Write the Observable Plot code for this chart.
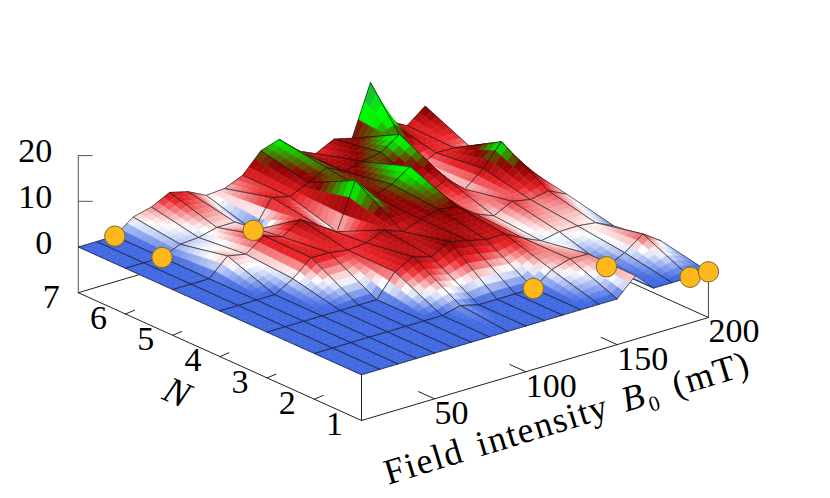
<!DOCTYPE html>
<html><head><meta charset="utf-8">
<style>html,body{margin:0;padding:0;background:#fff}svg{display:block}</style>
<script src="https://cdn.jsdelivr.net/npm/d3@7"></script>
<script src="https://cdn.jsdelivr.net/npm/@observablehq/plot@0.6"></script>
</head><body><div id="chart"></div>
<script>
const fieldB = [10,20,30,40,50,60,70,80,90,100,110,120,130,140,150,160,170,180,190,200];
const orders = [1,2,3,4,5,6,7];
const rowN1 = [0,0,0,0,0,0,0,0,0,0,0,0,0,0,0,3.9,0,0,0,0];
const rowN2 = [0,0,0,0,0,0,0,0,1,0,0,0,0,2.9,4.1,4,0,1.9,4.8,2.1];
const rowN3 = [0,0,0,0,0,0,0,4.9,7,5.8,7.9,7,6,6.1,4,2.2,3,3.1,2.6,0.7];
const rowN4 = [0,0,0,0,2.3,5.7,5.6,5,5.4,7,5.5,7,8,7.4,4.6,3,5,4.2,4.9,3];
const rowN5 = [0,0,0,3.8,3,5.8,4.4,7,4.5,2,12,7.4,8.8,11.5,4.3,6.4,3,6.3,11,5];
const rowN6 = [0,0,0,1.7,2,3,3,0,6,5,6.9,9,7,8,8.8,11.5,3,5.1,5,3.6];
const rowN7 = [0,0,0,3,4,6,5,3,3.3,5,9.2,10.5,6.8,5,7,6,17,7.4,5.2,8.3];
const rows = [rowN1,rowN2,rowN3,rowN4,rowN5,rowN6,rowN7];
const markedN = [7,6,6,2,2,1,1];
const markedB = [30,30,80,130,170,190,200];
const zTicks = [0,10,20];
const bTicks = [50,100,150,200];
const nTicks = [1,2,3,4,5,6,7];

const zMin = -10;
// oblique view of the box (N, B, z) onto the page
const px = (n,b) => 361 + 1.826*(b-10) - 47.2*(n-1);
const py = (n,b,z) => 420 - 0.542*(b-10) - 21.3*(n-1) - 4.57*(z-zMin);
const SUBN = 8, SUBB = 3;

const marks = [];
const plain = {x:"x", y:"y", stroke:"#222", strokeWidth:1, curve:"linear"};
const seg = (n1,b1,z1,n2,b2,z2,o={}) => Plot.line(
  [[n1,b1,z1],[n2,b2,z2]].map(([n,b,z])=>({x:px(n,b),y:py(n,b,z)})), {...plain,...o});

// hidden box edges and axes
marks.push(seg(7,10,zMin,7,10,20,{stroke:"#555"}));
marks.push(seg(7,10,zMin,7,200,zMin));
marks.push(seg(7,200,zMin,1,200,zMin));
marks.push(seg(7,10,zMin,1,10,zMin));
marks.push(seg(1,10,zMin,1,200,zMin));
marks.push(seg(1,10,zMin,1,10,0));
marks.push(seg(1,200,zMin,1,200,0,{stroke:"#444"}));
for (const t of zTicks) marks.push(Plot.line(
  [0,14].map(d=>({x:px(7,10)+d,y:py(7,10,t)})), {...plain,stroke:"#555"}));
for (const n of nTicks.slice(1,6)) marks.push(Plot.line(
  [0,9].map(d=>({x:px(n,10)+d,y:py(n,10,zMin)-d*0.42})), plain));
for (const b of bTicks.slice(0,3)) marks.push(Plot.line(
  [0,16].map(d=>({x:px(1,b)-d,y:py(1,b,zMin)-d*0.45})), plain));

// surface, back to front
const quads = [];
for (let i=0;i<orders.length-1;i++) for (let j=0;j<fieldB.length-1;j++) quads.push([i,j]);
quads.sort((a,b)=>(b[0]-a[0]) || (b[1]-a[1]));
const interp = (i,j,u,v) => {
  const a=rows[i][j], b=rows[i][j+1], c=rows[i+1][j], d=rows[i+1][j+1];
  return a*(1-u)*(1-v)+b*(1-u)*v+c*u*(1-v)+d*u*v;
};
const vertex = (i,j,u,v) => {
  const n=orders[i]+u, b=fieldB[j]+10*v;
  return {x:px(n,b),y:py(n,b,interp(i,j,u,v))};
};
const colorDomain = [0.2,2.7,5.2,7.7,10.2,12,16.5];
const colorRange = ["#4169e1","#ffffff","#ea2428","#8b0000","#00f000","#00ff00","#229a50"];
for (const [i,j] of quads) {
  const cells = [];
  for (let a=SUBN-1;a>=0;a--) for (let c=SUBB-1;c>=0;c--) {
    const u0=a/SUBN,u1=(a+1)/SUBN,v0=c/SUBB,v1=(c+1)/SUBB;
    const val=(interp(i,j,u0,v0)+interp(i,j,u1,v0)+interp(i,j,u0,v1)+interp(i,j,u1,v1))/4;
    const id=a*SUBB+c;
    for (const [u,v] of [[u0,v0],[u1,v0],[u1,v1],[u0,v1],[u0,v0]])
      cells.push({...vertex(i,j,u,v),id,val});
  }
  marks.push(Plot.line(cells,{x:"x",y:"y",z:"id",fill:"val",stroke:"val",strokeWidth:0.5,curve:"linear"}));
  marks.push(Plot.line([[0,0],[1,0],[1,1],[0,1],[0,0]].map(([u,v])=>vertex(i,j,u,v)),
    {x:"x",y:"y",stroke:"#111",strokeWidth:0.8,strokeOpacity:0.8,curve:"linear"}));
}

// markers
marks.push(Plot.dot(markedN.map((n,i)=>({n,b:markedB[i]})),{
  x:d=>px(d.n,d.b), y:d=>py(d.n,d.b,rows[d.n-1][fieldB.indexOf(d.b)]),
  r:10.2, fill:"#ffb81c", stroke:"#7a6a30", strokeWidth:1}));

// labels
const serif = "Liberation Serif";
const txt = {fontFamily:serif, fontSize:34, fill:"#000", stroke:null};
marks.push(Plot.text(zTicks,{...txt,x:()=>px(7,10)-26,y:d=>py(7,10,d)-4,text:d=>String(d),textAnchor:"end"}));
marks.push(Plot.text(nTicks,{...txt,x:d=>px(d,10)-27,y:d=>py(d,10,zMin)+4,text:d=>String(d)}));
marks.push(Plot.text(bTicks,{...txt,x:d=>px(1,d),y:d=>py(1,d,zMin)+14,text:d=>String(d),textAnchor:"start"}));
marks.push(Plot.text(["N"],{...txt,x:()=>px(4,10)-43,y:()=>py(4,10,zMin)+36,text:d=>d,fontStyle:"italic",rotate:24,fontSize:37}));
marks.push(Plot.text(["Field intensity B₀ (mT)"],{...txt,x:()=>px(1,105)+32,y:()=>py(1,105,zMin)+49,text:d=>d,rotate:-17,fontSize:36}));

const chart = Plot.plot({
  width:830,height:498,margin:0,
  x:{domain:[0,830],range:[0,830],axis:null},
  y:{domain:[0,498],range:[0,498],axis:null},
  color:{type:"linear",domain:colorDomain,range:colorRange,interpolate:"rgb",clamp:true},
  style:{background:"#fff"},
  marks
});
document.getElementById("chart").append(chart);
for (const t of chart.querySelectorAll("text")) {
  if (t.textContent.startsWith("Field")) {
    t.setAttribute("letter-spacing","1.4");
    t.setAttribute("word-spacing","5");
    const s = t.querySelector("tspan") || t;
    s.innerHTML = 'Field intensity <tspan font-style="italic">B</tspan>₀ (mT)';
  }
}
</script></body></html>
